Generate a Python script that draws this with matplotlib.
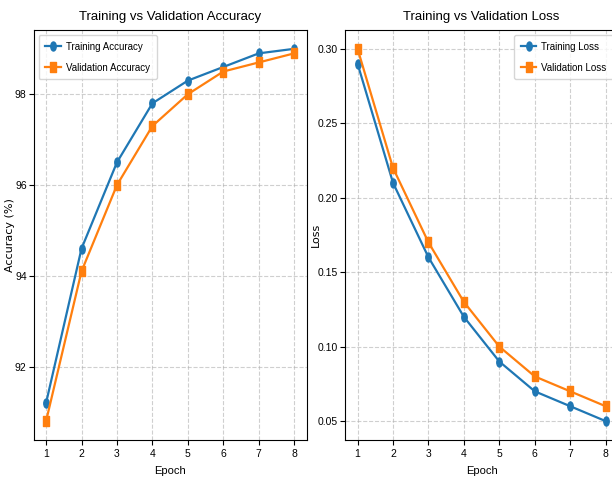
import matplotlib
matplotlib.use("Agg")
import matplotlib.pyplot as plt
from matplotlib.path import Path
from matplotlib.transforms import Affine2D

# Liberation Sans is narrower than DejaVu, closer to the squeezed look
NARROW = ["Liberation Sans", "DejaVu Sans"]

epochs = [1, 2, 3, 4, 5, 6, 7, 8]
train_acc = [91.2, 94.6, 96.5, 97.8, 98.3, 98.6, 98.9, 99.0]
val_acc = [90.8, 94.1, 96.0, 97.3, 98.0, 98.5, 98.7, 98.9]
train_loss = [0.29, 0.21, 0.16, 0.12, 0.09, 0.07, 0.06, 0.05]
val_loss = [0.30, 0.22, 0.17, 0.13, 0.10, 0.08, 0.07, 0.06]

# markers in the reference are narrower than they are tall
circle_m = Affine2D().scale(0.6, 1.0).transform_path(Path.unit_circle())
square_m = Affine2D().translate(-0.5, -0.5).scale(0.6, 1.0).transform_path(Path.unit_rectangle())

fig = plt.figure(figsize=(6.12, 4.87), dpi=100)
ax1 = fig.add_axes([0.055, 0.097, 0.446, 0.841])
ax2 = fig.add_axes([0.564, 0.097, 0.446, 0.841])


def style_axis(ax, title, ylabel, loc, ylabel_x):
    ax.set_title(title, family=NARROW, fontsize=9.5, pad=7)
    ax.set_xlabel("Epoch", family=NARROW, fontsize=8, labelpad=5)
    ax.set_ylabel(ylabel, fontsize=8)
    ax.yaxis.set_label_coords(ylabel_x, 0.5)
    ax.set_xticks(epochs)
    ax.tick_params(axis="y", pad=1.5)
    ax.grid(True, linestyle="--", alpha=0.6)
    for lbl in ax.get_xticklabels() + ax.get_yticklabels():
        lbl.set_family(NARROW)
        lbl.set_fontsize(7.5)
    ax.legend(loc=loc, prop={"family": NARROW, "size": 7}, handlelength=1.6,
              borderaxespad=0.5, labelspacing=1.1, borderpad=0.7, handletextpad=0.5)


ax1.plot(epochs, train_acc, "-", marker=circle_m, color="#1f77b4", lw=1.6, ms=6.5, label="Training Accuracy")
ax1.plot(epochs, val_acc, "-", marker=square_m, color="#ff7f0e", lw=1.6, ms=6.5, label="Validation Accuracy")
ax1.set_yticks([92, 94, 96, 98])
style_axis(ax1, "Training vs Validation Accuracy", "Accuracy (%)", "upper left", -0.068)

ax2.plot(epochs, train_loss, "-", marker=circle_m, color="#1f77b4", lw=1.6, ms=6.5, label="Training Loss")
ax2.plot(epochs, val_loss, "-", marker=square_m, color="#ff7f0e", lw=1.6, ms=6.5, label="Validation Loss")
ax2.set_yticks([0.05, 0.10, 0.15, 0.20, 0.25, 0.30])
style_axis(ax2, "Training vs Validation Loss", "Loss", "upper right", -0.089)

fig.savefig("out.png", dpi=100)
